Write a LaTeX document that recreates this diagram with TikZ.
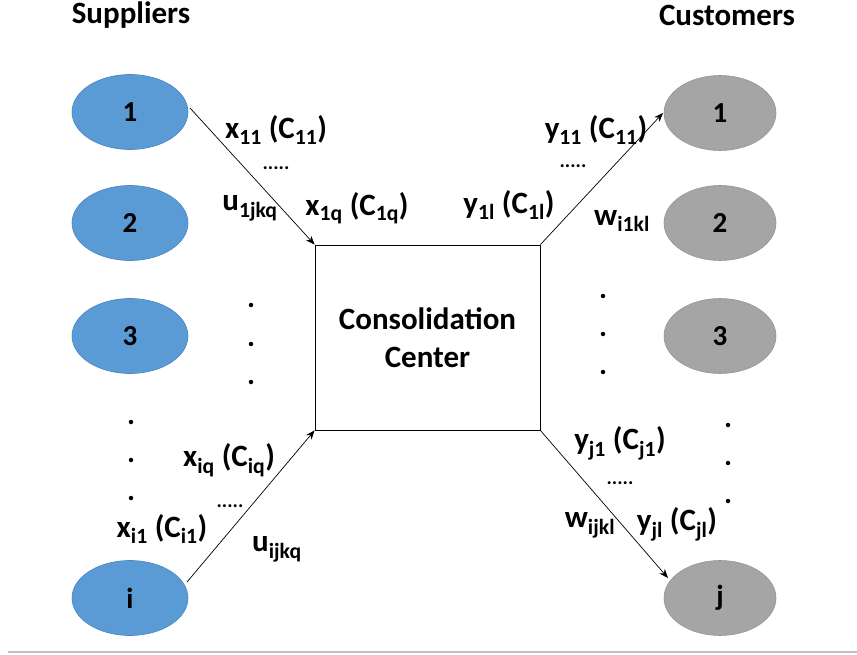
\documentclass[tikz,border=0pt]{standalone}
\usepackage{fontspec}
\setmainfont{Carlito}
\usetikzlibrary{shapes.geometric,arrows.meta}
\definecolor{supblue}{HTML}{5B9BD5}
\definecolor{supedge}{HTML}{4A86C0}
\definecolor{cusgrey}{HTML}{A5A5A5}
\definecolor{cusedge}{HTML}{949494}
\tikzset{
  sup/.style={ellipse,fill=supblue,draw=supedge,line width=0.6pt,minimum width=116pt,minimum height=75pt,inner sep=0pt,font=\bfseries\fontsize{29}{32}\selectfont},
  cus/.style={ellipse,fill=cusgrey,draw=cusedge,line width=0.6pt,minimum width=112pt,minimum height=75pt,inner sep=0pt,font=\bfseries\fontsize{29}{32}\selectfont},
  lbl/.style={font=\bfseries\fontsize{31}{34}\selectfont,inner sep=0pt},
  dts/.style={font=\bfseries\fontsize{20}{22}\selectfont,inner sep=0pt},
  vdot/.style={circle,fill=black,inner sep=0pt,minimum size=4.5pt},
  flow/.style={-{Stealth[length=9pt,width=7pt]},line width=0.7pt,black}
}
\newcommand{\sbs}[1]{\textsubscript{#1}}
\begin{document}
\begin{tikzpicture}[x=1pt,y=-1pt]
\useasboundingbox (0,0) rectangle (857,655);
\draw[line width=1.2pt,color=black!25] (8,652) -- (857,652);
% headers
\node[lbl] (hs) at (131,15) {Suppliers};
\node[lbl] (hc) at (727,15) {Customers};
% suppliers
\node[sup] (s1) at (130,112) {1};
\node[sup] (s2) at (130,223) {2};
\node[sup] (s3) at (130,336) {3};
\node[sup] (si) at (130,598) {i};
% customers
\node[cus] (c1) at (720,113) {1};
\node[cus] (c2) at (720,223) {2};
\node[cus] (c3) at (720,336) {3};
\node[cus] (cj) at (720,598) {j};
% centre
\node[draw=black,line width=0.8pt,minimum width=225pt,minimum height=185pt,inner sep=0pt,align=center,font=\bfseries\fontsize{31}{38}\selectfont] (cc) at (427.5,337.5) {Consolidation\\Center};
% connectors
\coordinate (a1) at (190,108);
\coordinate (ai) at (187,582);
\coordinate (b1) at (663,113);
\coordinate (bj) at (668,578);
\draw[flow] (a1) -- (cc.north west);
\draw[flow] (ai) -- (cc.south west);
\draw[flow] (cc.north east) -- (b1);
\draw[flow] (cc.south east) -- (bj);
% labels left top
\node[lbl] (l1) at (276,130) {x\sbs{11} (C\sbs{11})};
\node[dts] (d1) at (276,168) {.....};
\node[lbl] (l2) at (250,208) {u\sbs{1jkq}};
\node[lbl] (l3) at (357,208) {x\sbs{1q} (C\sbs{1q})};
% labels right top
\node[lbl] (r1) at (596,130) {y\sbs{11} (C\sbs{11})};
\node[dts] (d2) at (573,166) {.....};
\node[lbl] (r2) at (509,205) {y\sbs{1l} (C\sbs{1l})};
\node[lbl] (r3) at (622,221) {w\sbs{i1kl}};
% labels left bottom
\node[lbl] (l4) at (229,460) {x\sbs{iq} (C\sbs{iq})};
\node[dts] (d3) at (230,506) {.....};
\node[lbl] (l5) at (162,529) {x\sbs{i1} (C\sbs{i1})};
\node[lbl] (l6) at (277,549) {u\sbs{ijkq}};
% labels right bottom
\node[lbl] (r4) at (620,443) {y\sbs{j1} (C\sbs{j1})};
\node[dts] (d4) at (620,483) {.....};
\node[lbl] (r5) at (590,525) {w\sbs{ijkl}};
\node[lbl] (r6) at (677,524) {y\sbs{jl} (C\sbs{jl})};
% vertical dots
\node[vdot] (v1) at (251,305) {};
\node[vdot] (v2) at (251,344) {};
\node[vdot] (v3) at (251,382) {};
\node[vdot] (v4) at (131,422) {};
\node[vdot] (v5) at (131,460) {};
\node[vdot] (v6) at (131,498) {};
\node[vdot] (v7) at (603,296) {};
\node[vdot] (v8) at (603,334) {};
\node[vdot] (v9) at (603,372) {};
\node[vdot] (v10) at (728,425) {};
\node[vdot] (v11) at (728,463) {};
\node[vdot] (v12) at (728,501) {};
\end{tikzpicture}
\end{document}
